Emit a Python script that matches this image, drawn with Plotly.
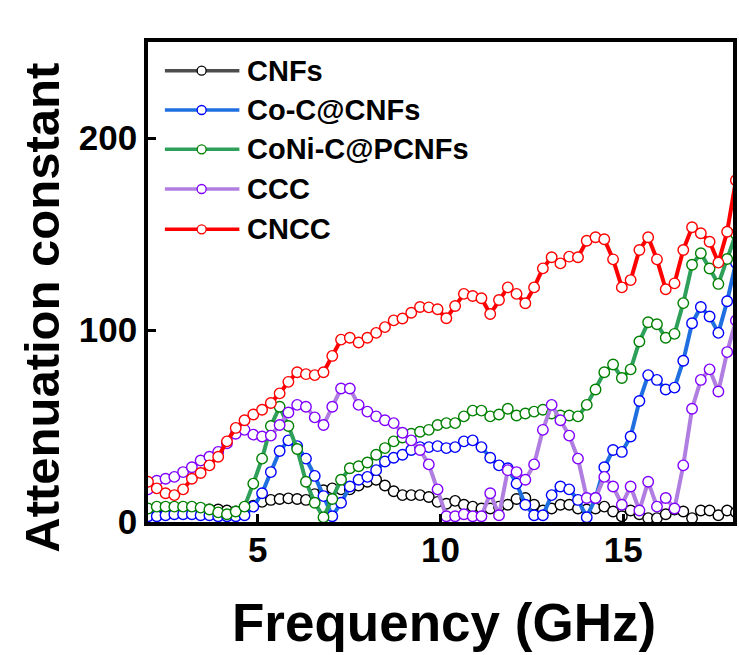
import plotly.graph_objects as go

# Frequency sweep (GHz)
freq = [2.00, 2.24, 2.48, 2.72, 2.96, 3.20, 3.44, 3.68, 3.92, 4.16, 4.40, 4.64,
        4.88, 5.12, 5.36, 5.60, 5.84, 6.08, 6.32, 6.56, 6.80, 7.04, 7.28, 7.52,
        7.76, 8.00, 8.24, 8.48, 8.72, 8.96, 9.20, 9.44, 9.68, 9.92, 10.16, 10.40,
        10.64, 10.88, 11.12, 11.36, 11.60, 11.84, 12.08, 12.32, 12.56, 12.80, 13.04,
        13.28, 13.52, 13.76, 14.00, 14.24, 14.48, 14.72, 14.96, 15.20, 15.44, 15.68,
        15.92, 16.16, 16.40, 16.64, 16.88, 17.12, 17.36, 17.60, 17.84, 18.08]

cnfs = [4, 4, 4.5, 5, 5.5, 6, 6, 6.5, 6.5, 6, 5.5, 6,
        8.5, 10.5, 11.5, 12, 12.3, 12, 11.5, 14.5, 16.5,
        17.5, 17, 17, 19, 21, 22, 19, 16, 14, 14, 14, 13, 10.5, 9.5, 11, 9, 8, 7, 7, 8, 9,
        12, 12.5, 9, 6, 7, 9, 9, 7, 6.5, 7, 8, 5.5, 3, 6, 4, 2, 2, 4, 6.5, 5.5, 2, 6, 6,
        3.5, 6, 5]

co_c_cnfs = [3, 3, 3.5, 4, 4, 4, 3.5, 3.5, 3, 3, 3, 3.5,
             8, 15, 26, 37, 42.5, 39.5, 33, 24, 13.5, 3,
             10, 18.5, 22, 23.5, 27, 31.5, 33.5, 35, 37.5, 39, 39, 39.5, 38.5, 39, 42,
             42.5, 39, 33.5, 29.5, 28,
             20, 9, 3.5, 3.5, 14, 18.5, 17, 11.5, 2.5, 12.5, 28.5, 37.5, 36.5, 44.5,
             63, 76.5, 74, 69, 70, 84, 103.5, 112, 107, 98.5, 115, 135]

coni_c_pcnfs = [7, 8, 8, 8, 8, 8, 7.5, 6.5, 5, 4, 5.5, 8,
                20, 33, 50, 60, 50, 38, 21, 10, 2.5, 12,
                22, 28, 29, 31, 35, 38.5, 42, 44, 46, 47,
                48, 50.5, 51.5, 51.5, 55, 58, 58, 55, 56, 59,
                55.5, 56.5, 57.5, 58.5, 56.5, 55.5, 55.5, 55,
                61, 69, 78, 82, 75, 79.5, 94, 104, 103, 96, 98, 114, 134, 140, 132, 124,
                137, 150]

ccc = [17, 21.5, 22.5, 23.5, 26, 28.5, 32, 34, 36.5, 41, 46, 48, 45.5, 44.5, 45,
       50.5, 57, 61, 60, 54.5, 50.5,
       60, 69.5, 69.5, 61, 57.5, 55, 53, 51.5, 46.5, 42.5, 37.5, 30, 17, 3, 3, 4, 3,
       3, 15, 3.5, 27, 26,
       22, 30, 48, 61, 53, 45, 33, 12.5, 12.5, 23.5, 18.5, 9, 18.5, 6, 21, 8, 12.5,
       7, 29.5, 59, 74, 79.5, 68, 88.5, 105]

cncc = [21, 17.5, 15, 14, 17, 22.5, 25.5, 29.5, 34, 42, 49, 53, 56, 58.5, 62,
        67, 73, 78, 77, 76.5, 78, 86.5, 95, 96, 93.5, 96, 98.5, 101.5, 105, 106, 109,
        112,
        111.8, 110.8, 106.1, 112.5, 118.8, 117.7, 116.5, 108.3, 115.6, 122.2, 118.8,
        113.9, 122.2, 132.1, 137.9, 134.7, 138.2, 137.9, 146.5, 148.3, 147.3, 136.8,
        122.2, 126, 141.7, 148.3, 136.8, 121.2, 124.3, 141.7, 153.5, 150.4, 146, 135.1,
        151.2, 178]

series_names = ["CNFs", "Co-C@CNFs", "CoNi-C@PCNFs", "CCC", "CNCC"]
series_values = [cnfs, co_c_cnfs, coni_c_pcnfs, ccc, cncc]
line_colors = ["#4d4d4d", "#1f6fe0", "#2ea05a", "#b07ee0", "#ff0000"]
marker_colors = ["#000000", "#0000ff", "#008000", "#8000ff", "#ff0000"]
line_widths = [2, 4, 4, 4, 4]

x_ticks = [5, 10, 15]
y_ticks = [0, 100, 200]

FONT = "Liberation Sans, Arial, sans-serif"
W, H = 739, 655
ML, MR, MT, MB = 148, 2, 42, 133
PW, PH = W - ML - MR, H - MT - MB


def px_x(px):
    return (px - ML) / PW


def px_y(py):
    return (H - MB - py) / PH


fig = go.Figure()
for name, vals, lc, mc, lw in zip(series_names, series_values, line_colors,
                                  marker_colors, line_widths):
    fig.add_trace(go.Scatter(
        x=freq, y=vals, name=name, mode="lines+markers",
        line=dict(color=lc, width=lw),
        marker=dict(symbol="circle", size=10.5, color="white",
                    line=dict(color=mc, width=1.4)),
        showlegend=False,
    ))

# Legend drawn as line + open circle + label
shapes = []
annotations = []
row_y = [70.7, 110, 149.3, 189, 229.3]
for name, lc, mc, ry in zip(series_names, line_colors, marker_colors, row_y):
    yy = px_y(ry)
    shapes.append(dict(type="line", xref="paper", yref="paper",
                       x0=px_x(165), x1=px_x(240), y0=yy, y1=yy,
                       line=dict(color=lc, width=3.5)))
    shapes.append(dict(type="circle", xref="paper", yref="paper",
                       xsizemode="pixel", ysizemode="pixel",
                       xanchor=px_x(202), yanchor=yy,
                       x0=-4.5, x1=4.5, y0=-4.5, y1=4.5,
                       fillcolor="white", line=dict(color=mc, width=1.3)))
    annotations.append(dict(text=f"<b>{name}</b>", xref="paper", yref="paper",
                            x=px_x(246), y=yy, xanchor="left", yanchor="middle",
                            showarrow=False,
                            font=dict(family=FONT, size=29, color="black")))

annotations.append(dict(text="<b>Frequency (GHz)</b>", xref="paper", yref="paper",
                        x=px_x(446), y=px_y(622), xanchor="center", yanchor="middle",
                        showarrow=False, font=dict(family=FONT, size=53, color="black")))
annotations.append(dict(text="<b>Attenuation constant</b>", xref="paper", yref="paper",
                        x=px_x(41), y=px_y(308), xanchor="center", yanchor="middle",
                        textangle=-90, showarrow=False,
                        font=dict(family=FONT, size=49, color="black")))

axis_common = dict(showline=True, linecolor="black", linewidth=3.5, mirror=True,
                   ticks="inside", ticklen=8, tickwidth=3, tickcolor="black",
                   showgrid=False, zeroline=False,
                   tickfont=dict(family=FONT, size=35, color="black", weight="bold"))

fig.update_layout(
    width=W, height=H,
    margin=dict(l=ML, r=MR, t=MT, b=MB),
    paper_bgcolor="white", plot_bgcolor="white",
    xaxis=dict(range=[2, 18], tickvals=x_ticks, ticklabelstandoff=-6, **axis_common),
    yaxis=dict(range=[0, 250], tickvals=y_ticks, **axis_common),
    shapes=shapes, annotations=annotations,
)

fig.write_html("out.html")
